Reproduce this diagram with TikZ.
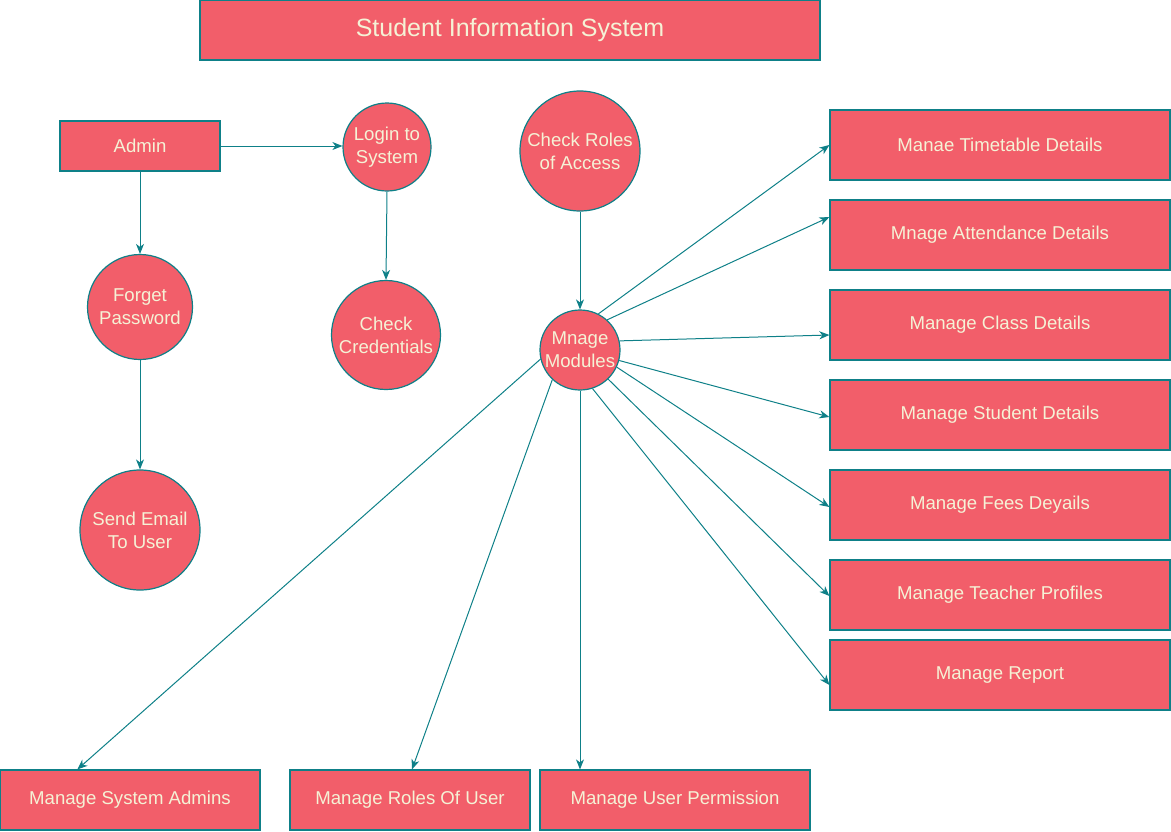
\documentclass[tikz,border=0pt]{standalone}
\usepackage{fontspec}
\setmainfont{Liberation Sans}
\usetikzlibrary{arrows.meta}
\definecolor{boxfill}{HTML}{F25E6A}
\definecolor{edge}{HTML}{0E8088}
\definecolor{txt}{HTML}{F5F2D6}
\tikzset{
  base/.style={draw=edge, fill=boxfill, line width=1.2pt, text=txt, font=\fontsize{18.6}{23}\selectfont, align=center, inner sep=0pt},
  rbox/.style={base, rectangle, minimum width=#1, minimum height=70pt},
  bbox/.style={base, rectangle, minimum width=#1, minimum height=60pt},
  circ/.style={base, circle, minimum size=#1},
  conn/.style={draw=edge, line width=1pt, -{Stealth[length=10pt,width=8pt,inset=3pt]}}
}
\begin{document}
\begin{tikzpicture}[x=1pt, y=-1pt]
\useasboundingbox (0,0) rectangle (1171,831);
% title
\node[base, rectangle, minimum width=620pt, minimum height=60pt, font=\fontsize{25}{28}\selectfont] (title) at (510,30) {Student Information System};
% left part
\node[base, rectangle, minimum width=160pt, minimum height=50pt] (admin) at (140,146) {Admin};
\node[circ=88pt] (login) at (387,147) {Login to\\System};
\node[circ=120pt] (roles) at (580,151) {Check Roles\\of Access};
\node[circ=105pt] (forget) at (140,307) {Forget\\Password};
\node[circ=109pt] (cred) at (386,335) {Check\\Credentials};
\node[circ=120pt] (email) at (140,530) {Send Email\\To User};
\node[circ=80pt] (mod) at (580,350) {Mnage\\Modules};
% right boxes
\node[rbox=340pt] (tt) at (1000,145) {Manae Timetable Details};
\node[rbox=340pt] (att) at (1000,235) {Mnage Attendance Details};
\node[rbox=340pt] (cls) at (1000,325) {Manage Class Details};
\node[rbox=340pt] (stu) at (1000,415) {Manage Student Details};
\node[rbox=340pt] (fee) at (1000,505) {Manage Fees Deyails};
\node[rbox=340pt] (tea) at (1000,595) {Manage Teacher Profiles};
\node[rbox=340pt] (rep) at (1000,675) {Manage Report};
% bottom boxes
\node[bbox=260pt] (sa) at (130,800) {Manage System Admins};
\node[bbox=240pt] (ru) at (410,800) {Manage Roles Of User};
\node[bbox=270pt] (up) at (675,800) {Manage User Permission};
% connectors
\draw[conn] (admin.east) -- (admin.east -| login.west);
\draw[conn] (admin.south) -- (forget.north);
\draw[conn] (forget.south) -- (email.north);
\draw[conn] (login.south) -- (cred.north);
\draw[conn] (roles.south) -- (mod.north);
\draw[conn] (mod.63) -- (tt.west);
\draw[conn] (mod.48) -- ([yshift=18pt]att.west);
\draw[conn] (mod.13) -- ([yshift=-10pt]cls.west);
\draw[conn] (mod.-15) -- ([yshift=-2pt]stu.west);
\draw[conn] (mod.-25) -- ([yshift=-2pt]fee.west);
\draw[conn] (mod.-46) -- ([yshift=-1pt]tea.west);
\draw[conn] (mod.-72) -- ([yshift=-10pt]rep.west);
\draw[conn] (mod.193) -- ([xshift=78pt]sa.north west);
\draw[conn] (mod.-133) -- ([xshift=2pt]ru.north);
\draw[conn] (mod.-90) -- ([xshift=-95pt]up.north);
\end{tikzpicture}
\end{document}
